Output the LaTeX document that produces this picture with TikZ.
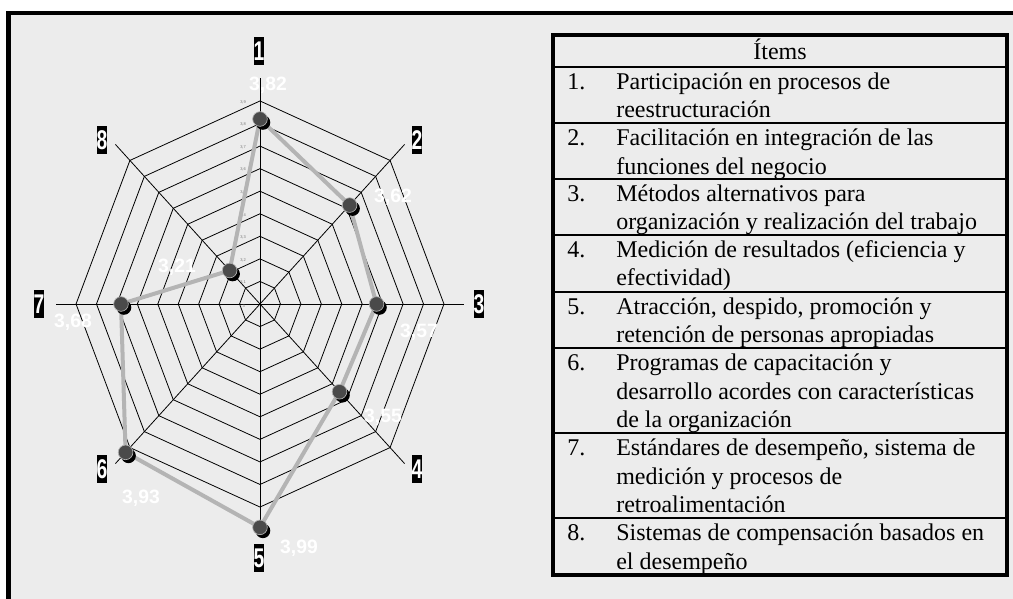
\documentclass[tikz,border=0pt]{standalone}
\usepackage{fontspec}
\setmainfont{Liberation Serif}
\setsansfont{Liberation Sans}
\usetikzlibrary{positioning}
\definecolor{panel}{RGB}{236,236,236}
\definecolor{trace}{RGB}{180,180,180}
\definecolor{dot}{RGB}{74,74,74}
\tikzset{
  axislabel/.style={fill=black, text=white, font=\sffamily\bfseries\fontsize{14.5}{14.5}\selectfont,
    inner sep=0pt, minimum width=7.5pt, minimum height=20.5pt},
  vallabel/.style={text=white, font=\sffamily\bfseries\fontsize{14.5}{15}\selectfont, inner sep=0pt},
  ticklabel/.style={text=black!55, font=\sffamily\fontsize{3}{3}\selectfont, inner sep=0pt},
  marker/.style={circle, fill=dot, draw=black!30, line width=0.5pt, minimum size=11pt, inner sep=0pt},
  dropshade/.style={circle, fill=black, minimum size=11pt, inner sep=0pt},
  itemnum/.style={anchor=base west, inner sep=0pt, font=\fontsize{18}{21.2}\selectfont},
  itemtext/.style={anchor=base west, align=left, inner sep=0pt, font=\fontsize{18}{21.2}\selectfont},
}

\begin{document}
\begin{tikzpicture}[x=0.75pt, y=-0.75pt]
\useasboundingbox (0,0) rectangle (1013,599);
% panel and frame
\fill[white] (0,0) rectangle (1013,599);
\fill[panel] (8.5,13) rectangle (1013,599);
\draw[line width=3.4pt] (8.5,599) -- (8.5,13) -- (1013,13);

% radar chart
\begin{scope}[shift={(260,304)}, x=15.33pt, y=16.92pt]
  \foreach \r in {1,...,9}
    \draw[line width=0.6pt] (90:\r) \foreach \a in {45,0,...,-225} { -- (\a:\r) } -- cycle;
  \foreach \i in {1,...,8}
    \draw[line width=0.6pt] (0,0) -- ({90-45*(\i-1)}:10);
  \node[ticklabel] (tick0) at (-0.8,-0.1) {3};
  \foreach \k in {1,...,9}
    \node[ticklabel] (tick\k) at (-0.83,\k-0.05) {3,\k};
  \foreach \i/\v in {1/3.82, 2/3.62, 3/3.57, 4/3.55, 5/3.99, 6/3.93, 7/3.68, 8/3.21}
    \coordinate (p\i) at ({90-45*(\i-1)}:{(\v-3)*10});
  \draw[trace, line width=3pt, line join=round] (p1) -- (p2) -- (p3) -- (p4) -- (p5) -- (p6) -- (p7) -- (p8) -- cycle;
  \foreach \i in {1,...,8} {
    \node[dropshade] at ([xshift=2.2pt, yshift=-2.6pt]p\i) {};
    \node[marker] (m\i) at (p\i) {};
  }
\end{scope}

% axis numbers
\foreach \i/\x/\y in {1/259/51, 2/417/140, 3/479/304, 4/417/469, 5/259/558, 6/102/469, 7/39/304, 8/102/140}
  \node[axislabel] (ax\i) at (\x,\y) {\scalebox{1}[1.4]{\i}};

% values
\foreach \i/\x/\y/\t in {1/268/85/{3,82}, 2/393/197/{3,62}, 3/419/332/{3,57}, 4/383/417/{3,55},
    5/299/548/{3,99}, 6/141/498/{3,93}, 7/73/322/{3,68}, 8/177/267/{3,21}}
  \node[vallabel] (val\i) at (\x,\y) {\t};

% items table (base of a wrapped text is its last line)
\foreach \y in {66.7,123.3,179,235,291.7,348.3,433.3,518.3}
  \draw[line width=1.4pt] (553,\y) -- (1007,\y);
\draw[line width=2.3pt] (553,35) rectangle (1007,575);
\node[itemtext, anchor=base] (head) at (780,59.5) {Ítems};
\foreach \k/\y/\z/\t in {
    1/89.2/117.5/{Participación en procesos de\\reestructuración},
    2/145.8/174.1/{Facilitación en integración de las\\funciones del negocio},
    3/201.5/229.8/{Métodos alternativos para\\organización y realización del trabajo},
    4/257.5/285.8/{Medición de resultados (eficiencia y\\efectividad)},
    5/314.2/342.5/{Atracción, despido, promoción y\\retención de personas apropiadas},
    6/370.8/427.3/{Programas de capacitación y\\desarrollo acordes con características\\de la organización},
    7/455.8/512.3/{Estándares de desempeño, sistema de\\medición y procesos de\\retroalimentación},
    8/540.8/569.1/{Sistemas de compensación basados en\\el desempeño}} {
  \node[itemnum] (num\k) at (567,\y) {\k.};
  \node[itemtext] (item\k) at (616,\z) {\t};
}
\end{tikzpicture}
\end{document}
